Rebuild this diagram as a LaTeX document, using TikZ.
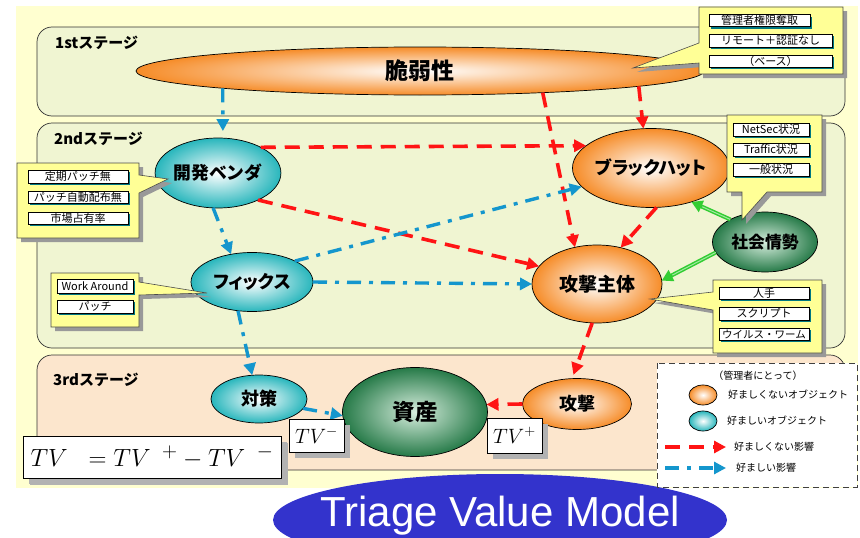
\documentclass[tikz,border=0pt]{standalone}
\usepackage{fontspec}
\setmainfont{Noto Sans CJK JP}
\newfontfamily\jpp[RawFeature=+palt]{Noto Sans CJK JP}
\newfontfamily\arialf{Liberation Sans}
\usetikzlibrary{arrows.meta,shapes.geometric,shadows,calc}
\definecolor{bgyel}{RGB}{255,255,208}
\definecolor{stgreen}{RGB}{240,245,210}
\definecolor{stpeach}{RGB}{252,230,205}
\definecolor{orng}{RGB}{246,140,40}
\definecolor{tealc}{RGB}{40,182,188}
\definecolor{grn}{RGB}{38,122,72}
\definecolor{grnin}{RGB}{215,238,222}
\definecolor{callyel}{RGB}{255,255,150}
\definecolor{redarr}{RGB}{255,20,20}
\definecolor{bluearr}{RGB}{20,150,205}
\definecolor{grnarr}{RGB}{50,205,50}
\definecolor{titleblue}{RGB}{51,51,204}
\definecolor{itemshadow}{RGB}{0,120,130}
\begin{document}
\begin{tikzpicture}[x=1pt,y=-1pt,
  stagebox/.style={draw=black!80, line width=0.7pt, rounded corners=15pt},
  stagelbl/.style={anchor=west, font=\bfseries\fontsize{15}{17}\selectfont, inner sep=0pt},
  obj/.style={ellipse, draw=black, line width=0.7pt, inner sep=0pt, outer sep=0pt, font=\bfseries},
  bad/.style={obj, inner color=white, outer color=orng},
  good/.style={obj, inner color=white, outer color=tealc},
  envobj/.style={obj, inner color=grnin, outer color=grn},
  callout/.style={fill=callyel, draw=black!70, line width=0.6pt},
  callshadow/.style={fill=black!40},
  item/.style={draw=black, fill=white, line width=0.5pt, inner sep=0pt,
    font=\fontsize{11}{12}\selectfont,
    drop shadow={shadow xshift=2pt, shadow yshift=-2pt, fill=itemshadow, opacity=1}},
  badarr/.style={draw=redarr, line width=3.6pt, dash pattern=on 15pt off 9pt,
    -{Triangle[length=12pt,width=12pt]}},
  goodarr/.style={draw=bluearr, line width=3.4pt, dash pattern=on 14pt off 8pt on 4pt off 8pt,
    -{Triangle[length=12pt,width=12pt]}},
  socarr/.style={draw=grnarr, line width=4pt, -{Triangle[length=11pt,width=12pt]}},
  socmid/.style={draw=white!55!grnarr, line width=1pt, shorten >=12pt},
  tvbox/.style={draw=black, fill=white, line width=0.6pt, inner sep=0pt,
    drop shadow={shadow xshift=6pt, shadow yshift=-6pt, fill=black!30, opacity=1}},
  legtext/.style={anchor=west, inner sep=0pt, font=\fontsize{10}{12}\selectfont}
]
\useasboundingbox (0,0) rectangle (860,538);
% background
\fill[bgyel] (16,6) rectangle (858,488);
% stages
\filldraw[stagebox, fill=stgreen] (37,27) rectangle (845,116);
\filldraw[stagebox, fill=stgreen] (37,123) rectangle (845,348);
\filldraw[stagebox, fill=stpeach] (37,355) rectangle (845,470);
\node[stagelbl] (s1) at (55,43) {1stステージ};
\node[stagelbl] (s2) at (54,138.5) {2ndステージ};
\node[stagelbl] (s3) at (53,380) {3rdステージ};

% title
\node[ellipse, fill=titleblue, minimum width=454, minimum height=92, inner sep=0pt] (titlebg) at (500,520) {};
\node[text=white, font=\arialf\fontsize{42}{44}\selectfont, inner sep=0pt] (title) at (500,516) {Triage Value Model};

% objects
\node[bad, minimum width=568, minimum height=48, font=\bfseries\fontsize{23}{25}\selectfont] (vuln) at (420,71) {脆弱性};
\node[good, minimum width=110, minimum height=70, font=\bfseries\fontsize{17.8}{20}\selectfont] (vend) at (218,173) {開発ベンダ};
\node[good, minimum width=122, minimum height=59, font=\bfseries\jpp\fontsize{18}{20}\selectfont] (fix) at (252,282) {フィックス};
\node[bad, minimum width=129, minimum height=79, font=\bfseries\jpp\fontsize{18}{20}\selectfont] (bh) at (651,168) {ブラックハット};
\node[envobj, minimum width=105, minimum height=60, font=\bfseries\fontsize{16.8}{19}\selectfont] (soc) at (765,242) {社会情勢};
\node[bad, minimum width=130, minimum height=78, font=\bfseries\fontsize{19}{21}\selectfont] (atk) at (597,284) {攻撃主体};
\node[good, minimum width=96, minimum height=48, font=\bfseries\fontsize{18}{20}\selectfont] (cnt) at (259,399) {対策};
\node[envobj, minimum width=145, minimum height=89, font=\bfseries\fontsize{22.5}{24}\selectfont] (asset) at (415,412) {資産};
\node[bad, minimum width=109, minimum height=51, font=\bfseries\fontsize{18}{20}\selectfont] (attack) at (577,404) {攻撃};

% red connectors
\draw[badarr] (vend.31) -- (bh.161);
\draw[badarr] (vend.-34) -- (atk.163);
\draw[badarr] (vuln.-10) -- (atk.121);
\draw[badarr] (vuln.-4) -- (bh.101);
\draw[badarr] (bh.-82) -- (atk.57);
\draw[badarr, shorten >=4pt] (atk.-97) -- (attack.101);
\draw[badarr] (attack.west) -- (asset.6);
% blue connectors
\draw[goodarr, shorten >=7pt] (vuln.185.5) -- (vend.82);
\draw[goodarr] (vend.-98) -- (fix.127);
\draw[goodarr] (fix.-116) -- (cnt.106);
\draw[goodarr] (fix.26) -- (bh.-165);
\draw[goodarr] (fix.east) -- (atk.west);
\draw[goodarr] (cnt.-12) -- (asset.183);
% green connectors
\draw[socarr] (soc.147) -- (bh.-40);
\draw[socmid] (soc.147) -- (bh.-40);
\draw[socarr] (soc.-168) -- (atk.3);
\draw[socmid] (soc.-168) -- (atk.3);

% callouts
\fill[callshadow] (703,11)--(847,11)--(847,78)--(703,78)--(703,67)--(637,72)--(703,47)--cycle;
\filldraw[callout] (699,7)--(843,7)--(843,74)--(699,74)--(699,63)--(633,68)--(699,43)--cycle;
\fill[callshadow] (21,167)--(143,167)--(143,179)--(172,183)--(143,197)--(143,242)--(21,242)--cycle;
\filldraw[callout] (17,163)--(139,163)--(139,175)--(168,179)--(139,193)--(139,238)--(17,238)--cycle;
\fill[callshadow] (55,277)--(143,277)--(143,286)--(211,297)--(143,299)--(143,331)--(55,331)--cycle;
\filldraw[callout] (51,273)--(139,273)--(139,282)--(207,293)--(139,295)--(139,327)--(51,327)--cycle;
\fill[callshadow] (731,119)--(826,119)--(826,196)--(771,196)--(746,224)--(746,196)--(731,196)--cycle;
\filldraw[callout] (727,115)--(822,115)--(822,192)--(767,192)--(742,220)--(742,192)--(727,192)--cycle;
\fill[callshadow] (717,284)--(826,284)--(826,357)--(717,357)--(717,314)--(654,303)--(717,296)--cycle;
\filldraw[callout] (713,280)--(822,280)--(822,353)--(713,353)--(713,310)--(650,299)--(713,292)--cycle;

% items
\node[item, minimum width=101, minimum height=12] (v1) at (759.5,20.5) {管理者権限奪取};
\node[item, minimum width=123, minimum height=13] (v2) at (770.5,40.5) {リモート＋認証なし};
\node[item, minimum width=123, minimum height=12] (v3) at (770.5,61) {（ベース）};
\node[item, minimum width=100, minimum height=13] (d1) at (78,176.5) {定期パッチ無};
\node[item, minimum width=100, minimum height=12] (d2) at (78,197) {パッチ自動配布無};
\node[item, minimum width=100, minimum height=12] (d3) at (78,218) {市場占有率};
\node[item, minimum width=76, minimum height=14] (f1) at (95,286) {Work Around};
\node[item, minimum width=76, minimum height=13] (f2) at (95,306.5) {パッチ};
\node[item, minimum width=76, minimum height=13] (n1) at (771,129.5) {NetSec状況};
\node[item, minimum width=76, minimum height=13] (n2) at (771,149.5) {Traffic状況};
\node[item, minimum width=76, minimum height=13] (n3) at (771,169.5) {一般状況};
\node[item, minimum width=90, minimum height=12] (k1) at (764,293) {人手};
\node[item, minimum width=90, minimum height=13] (k2) at (764,313.5) {スクリプト};
\node[item, minimum width=90, minimum height=12, font=\fontsize{10.5}{12}\selectfont] (k3) at (764,334) {ウイルス・ワーム};

% TV boxes
\node[tvbox, minimum width=55, minimum height=33, font=\fontsize{20}{22}\selectfont] (tvm) at (316.5,435.5) {$TV^{-}$};
\node[tvbox, minimum width=55, minimum height=35, font=\fontsize{20}{22}\selectfont] (tvp) at (514.5,435.5) {$TV^{+}$};
\node[tvbox, minimum width=258, minimum height=42, font=\fontsize{28}{30}\selectfont,
  drop shadow={shadow xshift=7pt, shadow yshift=-7pt, fill=black!30, opacity=1}] (eq) at (152,457)
  {$TV\;\;=TV^{\;\;+}-TV^{\;\;-}$};

% legend
\filldraw[fill=white, draw=black!75, line width=1pt, dash pattern=on 6pt off 4pt] (657,363) rectangle (857,487);
\node[inner sep=0pt, font=\fontsize{10}{12}\selectfont] (lh) at (758,376) {（管理者にとって）};
\node[bad, minimum width=28, minimum height=20] (lbad) at (703,395) {};
\node[legtext] (lbadt) at (728,395) {好ましくないオブジェクト};
\node[good, minimum width=28, minimum height=20] (lgood) at (703,421) {};
\node[legtext] (lgoodt) at (727,421) {好ましいオブジェクト};
\coordinate (lr1) at (665,447);
\coordinate (lr2) at (726,447);
\draw[badarr] (lr1) -- (lr2);
\node[legtext] (lrt) at (734,447) {好ましくない影響};
\coordinate (lb1) at (665,468);
\coordinate (lb2) at (726,468);
\draw[goodarr] (lb1) -- (lb2);
\node[legtext] (lbt) at (736,468) {好ましい影響};
\end{tikzpicture}
\end{document}
